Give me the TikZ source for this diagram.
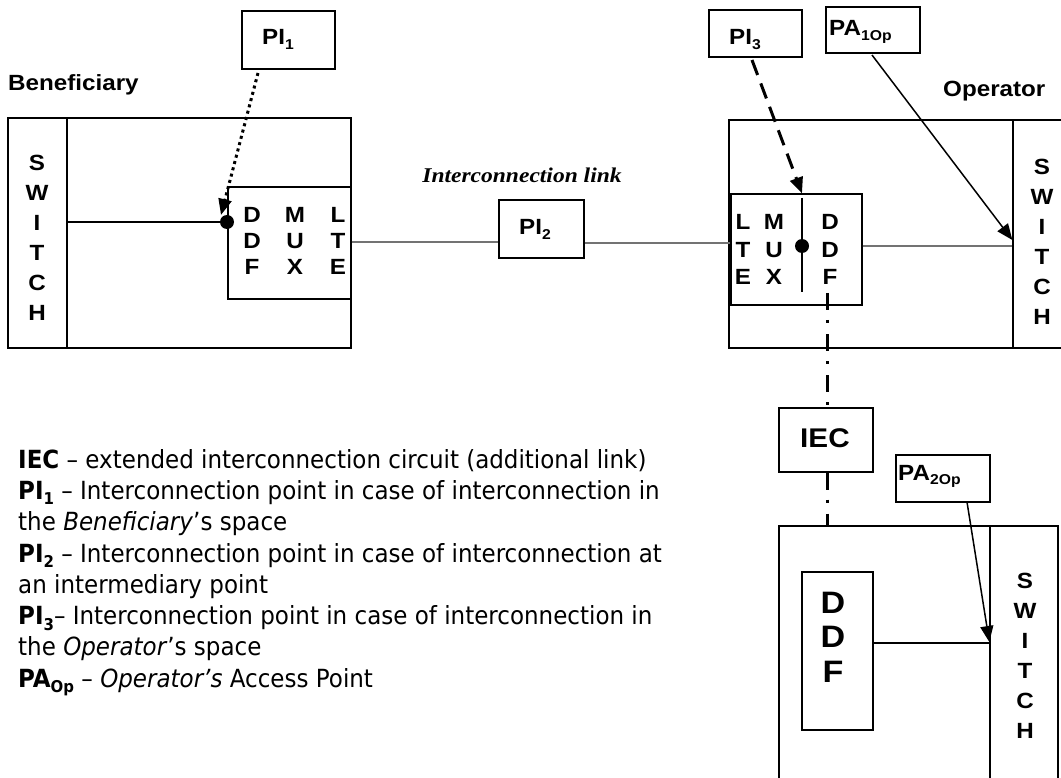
\documentclass[tikz,border=0pt]{standalone}
\usepackage{fontspec}
\usepackage{graphicx}
\usetikzlibrary{arrows.meta}
\newfontfamily\arl[FakeStretch=1.1,Ligatures=TeX]{Liberation Sans}
\newfontfamily\tms[FakeStretch=1.12,Ligatures=TeX]{Liberation Serif}
\newfontfamily\leg[FakeStretch=0.92,Ligatures=TeX]{DejaVu Sans}
\newcommand{\lowtxt}[1]{\raisebox{-0.22em}{\scalebox{0.65}{#1}}}
\begin{document}
\begin{tikzpicture}[x=1pt,y=-1pt,
  box/.style={draw, line width=1.3pt, inner sep=0pt},
  lbl/.style={font=\arl\bfseries\fontsize{22}{30}\selectfont, align=center, inner sep=0pt},
  col/.style={font=\arl\bfseries\fontsize{22}{#1}\selectfont, align=center, inner sep=0pt},
  link/.style={draw=black!55, line width=1.2pt},
  wire/.style={draw, line width=1.2pt},
  tip/.style={-{Triangle[length=16pt,width=13pt]}},
  dotline/.style={line width=3pt, dash pattern=on 3pt off 3.5pt},
  dashline/.style={line width=3pt, dash pattern=on 16pt off 9pt},
  dashdotline/.style={line width=3pt, dash pattern=on 17pt off 10pt on 3pt off 11pt},
  blob/.style={circle, fill, minimum size=14pt, inner sep=0pt}
]
\useasboundingbox[fill=white] (0,0) rectangle (1061,778);

% ---------------- Beneficiary side ----------------
\node[lbl, anchor=base west] (bentxt) at (8,91) {Beneficiary};
\node[box, minimum width=343, minimum height=230] (benOuter) at (179.5,233) {};
\node[box, minimum width=59, minimum height=230] (benSW) at (37.5,233) {};
\node[lbl] (benSWt) at (37,238) {S\\W\\I\\T\\C\\H};
\node[box, line width=1.1pt, minimum width=123, minimum height=112] (benMux) at (289.5,243) {};
\node[col=26] (bm1) at (252,241) {D\\D\\F};
\node[col=26] (bm2) at (295,241) {M\\U\\X};
\node[col=26] (bm3) at (338,241) {L\\T\\E};
\node[blob] (dot1) at (227,222) {};
\coordinate (dot1a) at (221,215);
\draw[wire] (benSW.east |- dot1) -- (dot1);

\node[box, minimum width=93, minimum height=58] (PI1) at (288.5,40) {};
\node[lbl, anchor=base west] (PI1t) at (262,45) {PI\lowtxt{1}};
\coordinate (p1s) at (258,73);
\draw[dotline, tip] (p1s) -- (dot1a);

% ---------------- interconnection link ----------------
\node[font=\tms\bfseries\itshape\fontsize{21}{24}\selectfont, inner sep=0pt] (ilink) at (522,175) {Interconnection link};
\node[box, minimum width=85, minimum height=58] (PI2) at (541.5,229) {};
\node[lbl, anchor=base west] (PI2t) at (519,235) {PI\lowtxt{2}};
\draw[link] (benMux.east |- 0,242) -- (PI2.west |- 0,242);

% ---------------- Operator side ----------------
\node[lbl, anchor=base west] (optxt) at (943,97) {Operator};
\node[box, minimum width=346, minimum height=228] (opOuter) at (902,234) {};
\node[box, minimum width=62, minimum height=228] (opSW) at (1044,234) {};
\node[lbl] (opSWt) at (1042,242) {S\\W\\I\\T\\C\\H};
\node[box, line width=1.1pt, minimum width=131, minimum height=111] (opMux) at (796.5,249.5) {};
\node[col=27.5] (om1) at (743,249.5) {L\\T\\E};
\node[col=27.5] (om2) at (774,249.5) {M\\U\\X};
\node[col=27.5] (om3) at (830,249.5) {D\\D\\F};
\coordinate (barTop) at (802,198);
\coordinate (barBot) at (802,292);
\draw[line width=1.6pt] (barTop) -- (barBot);
\node[blob] (dot2) at (802,246) {};
\draw[link] (PI2.east |- 0,243) -- (opMux.west |- 0,243);
\draw[link] (opMux.east |- 0,246) -- (opSW.west |- 0,246);

\node[box, minimum width=93, minimum height=47] (PI3) at (755.5,33.5) {};
\node[lbl, anchor=base west] (PI3t) at (729,45) {PI\lowtxt{3}};
\coordinate (p3s) at (752,60);
\draw[dashline, tip] (p3s) -- (opMux.north -| barTop);

\node[box, minimum width=94, minimum height=46] (PA1) at (873,30) {};
\node[lbl, anchor=base west] (PA1t) at (829,36) {PA\lowtxt{1Op}};
\coordinate (pa1s) at (872,55);
\draw[line width=1.5pt, tip] (pa1s) -- (opSW.west |- 0,240);

% ---------------- IEC and lower operator block ----------------
\node[box, minimum width=94, minimum height=64] (IEC) at (826,440) {};
\node[font=\arl\bfseries\fontsize{27}{30}\selectfont, inner sep=0pt, anchor=base west] (IECt) at (800,447) {IEC};
\coordinate (ddfA) at (827,293);
\node[box, minimum width=279, minimum height=274] (lowOuter) at (918.5,663) {};
\node[box, minimum width=68, minimum height=274] (lowSW) at (1024,663) {};
\node[lbl] (lowSWt) at (1025,656) {S\\W\\I\\T\\C\\H};
\draw[dashdotline] (ddfA) -- (IEC.north -| ddfA);
\draw[dashdotline] (IEC.south -| ddfA) -- (lowOuter.north -| ddfA);

\node[box, minimum width=71, minimum height=158] (DDF) at (837.5,651) {};
\node[font=\arl\bfseries\fontsize{31}{34.5}\selectfont, align=center, inner sep=0pt] (DDFt) at (833,637) {D\\D\\F};
\draw[wire] (DDF.east |- 0,643) -- (lowSW.west |- 0,643);

\node[box, minimum width=94, minimum height=47] (PA2) at (943,478.5) {};
\node[lbl, anchor=base west] (PA2t) at (898,480) {PA\lowtxt{2Op}};
\coordinate (pa2s) at (967,502);
\draw[line width=1.5pt, tip] (pa2s) -- (lowSW.west |- 0,642);

% ---------------- legend ----------------
\node[font=\leg\fontsize{25}{31.3}\selectfont, align=left, inner sep=0pt, anchor=north west] (legend) at (18,449) {%
\textbf{IEC} -- extended interconnection circuit (additional link)\\
\textbf{PI\lowtxt{1}} -- Interconnection point in case of interconnection in\\
the \textit{Beneficiary}'s space\\
\textbf{PI\lowtxt{2}} -- Interconnection point in case of interconnection at\\
an intermediary point\\
\textbf{PI\lowtxt{3}}-- Interconnection point in case of interconnection in\\
the \textit{Operator}'s space\\
\textbf{PA\lowtxt{Op}} -- \textit{Operator's} Access Point};
\end{tikzpicture}
\end{document}
